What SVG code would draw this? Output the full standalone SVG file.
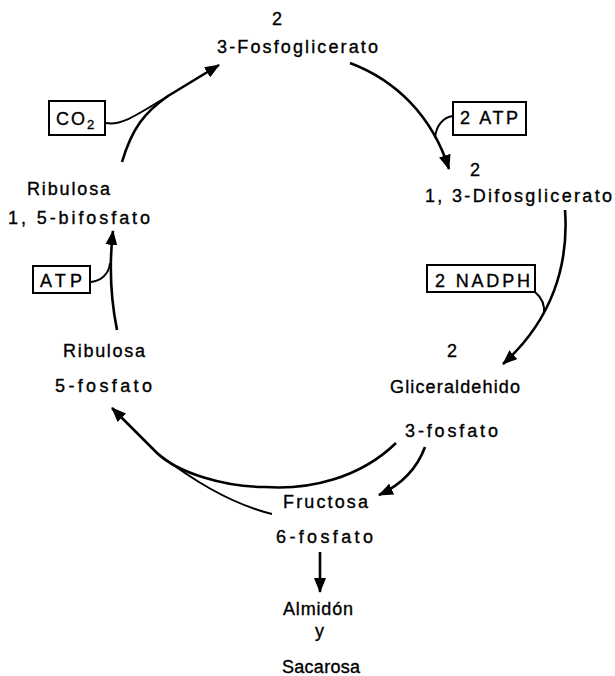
<svg xmlns="http://www.w3.org/2000/svg" width="615" height="676" viewBox="0 0 615 676">
<style>
text{font-family:"Liberation Sans",Arial,sans-serif;font-size:18px;fill:#000;stroke:#000;stroke-width:0.35}
.sub{font-size:13px}
.box{fill:none;stroke:#000;stroke-width:2}
.main{fill:none;stroke:#000;stroke-width:2.6;marker-end:url(#ah)}
.br{fill:none;stroke:#000;stroke-width:2}
</style>
<defs>
<marker id="ah" markerUnits="userSpaceOnUse" markerWidth="16" markerHeight="12" refX="14" refY="6" orient="auto">
<path d="M0,0 L15,6 L0,12 Z" fill="#000"/>
</marker>
</defs>
<rect width="615" height="676" fill="#fff"/>
<g id="connectors">
<path class="main" d="M122,162 C132,128 145,112 168,96 L219,65"/>
<path class="br" d="M106,123 C122,126 138,114 168,96"/>
<path class="main" d="M350,63 C395,80 432,115 449,169"/>
<path class="br" d="M453,116 C443,117 436,126 435,138"/>
<path class="main" d="M565,210 C569,265 552,320 503,364"/>
<path class="br" d="M535,292 C541,297 545,305 544,314"/>
<path class="main" d="M396,443 C360,478 310,490 265,487 C225,487 178,473 157,453 L112,408"/>
<path class="br" d="M272,514 C228,503 190,478 157,453"/>
<path class="main" d="M425,447 C418,466 405,483 379,495"/>
<path class="main" d="M117,330 C110,295 109,265 113,231"/>
<path class="br" d="M91,282 C101,281 109,274 110,263"/>
<path class="main" d="M320,552 L320,592"/>
</g>
<g id="n-3pg">
<text x="272" y="25">2</text>
<text x="217" y="53" textLength="161" lengthAdjust="spacing">3-Fosfoglicerato</text>
</g>
<g id="n-atp2">
<rect class="box" x="453" y="102" width="73" height="33"/>
<text x="460" y="124" textLength="58" lengthAdjust="spacing">2 ATP</text>
</g>
<g id="n-13dpg">
<text x="470" y="176">2</text>
<text x="425" y="202" textLength="187" lengthAdjust="spacing">1, 3-Difosglicerato</text>
</g>
<g id="n-nadph">
<rect class="box" x="427" y="265" width="108" height="27"/>
<text x="435" y="287" textLength="95" lengthAdjust="spacing">2 NADPH</text>
</g>
<g id="n-g3p">
<text x="447" y="357">2</text>
<text x="390" y="393" textLength="130" lengthAdjust="spacing">Gliceraldehido</text>
<text x="405" y="437" textLength="93" lengthAdjust="spacing">3-fosfato</text>
</g>
<g id="n-f6p">
<text x="283" y="508" textLength="85" lengthAdjust="spacing">Fructosa</text>
<text x="276" y="543" textLength="97" lengthAdjust="spacing">6-fosfato</text>
</g>
<g id="n-almidon">
<text x="283" y="615" textLength="70" lengthAdjust="spacing">Almidón</text>
<text x="315" y="637">y</text>
<text x="282" y="673" textLength="78" lengthAdjust="spacing">Sacarosa</text>
</g>
<g id="n-r5p">
<text x="63" y="357" textLength="82" lengthAdjust="spacing">Ribulosa</text>
<text x="55" y="392" textLength="97" lengthAdjust="spacing">5-fosfato</text>
</g>
<g id="n-atp">
<rect class="box" x="33" y="266" width="57" height="27"/>
<text x="40" y="287" textLength="42" lengthAdjust="spacing">ATP</text>
</g>
<g id="n-rubp">
<text x="27" y="195" textLength="83" lengthAdjust="spacing">Ribulosa</text>
<text x="8" y="224" textLength="142" lengthAdjust="spacing">1, 5-bifosfato</text>
</g>
<g id="n-co2">
<rect class="box" x="49" y="101" width="56" height="34"/>
<text x="56" y="125" textLength="29" lengthAdjust="spacing">CO</text>
<text class="sub" x="87" y="129">2</text>
</g>
</svg>
